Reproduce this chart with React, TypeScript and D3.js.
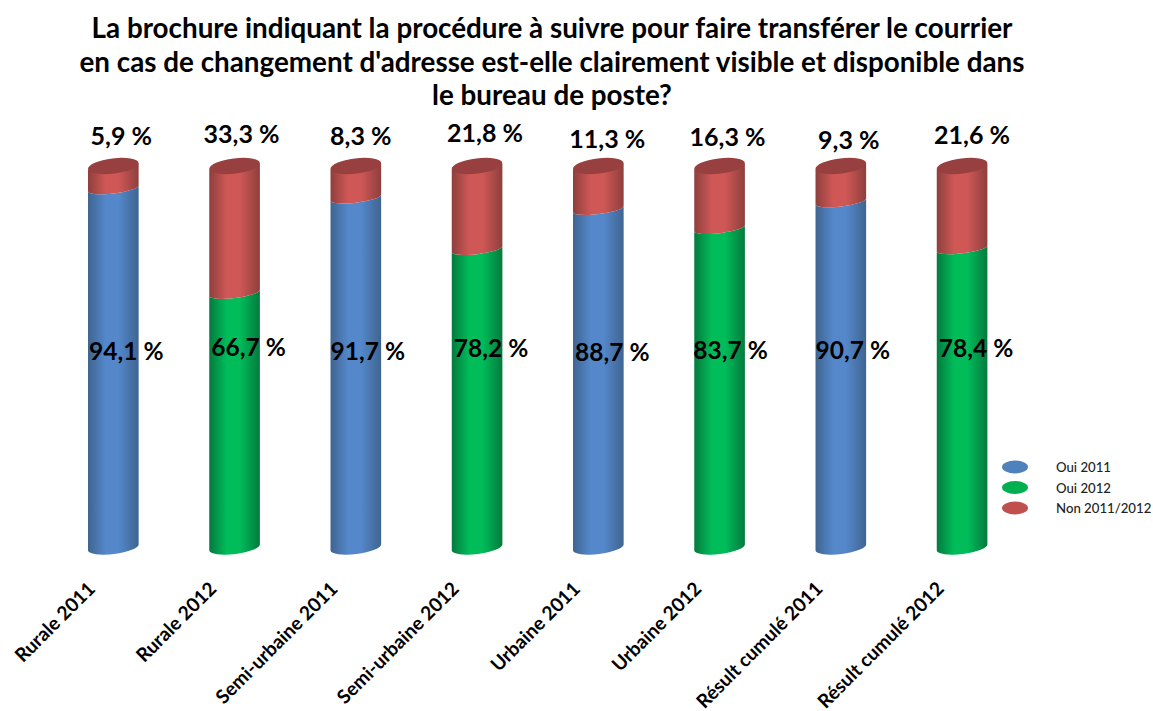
import React from "react";
import * as d3 from "d3";

const titleLines = [
  "La brochure indiquant la procédure à suivre pour faire transférer le courrier",
  "en cas de changement d'adresse est-elle clairement visible et disponible dans",
  "le bureau de poste?",
];
const categories = ["Rurale 2011", "Rurale 2012", "Semi-urbaine 2011", "Semi-urbaine 2012", "Urbaine 2011", "Urbaine 2012", "Résult cumulé 2011", "Résult cumulé 2012"];
const oui = [94.1, 66.7, 91.7, 78.2, 88.7, 83.7, 90.7, 78.4];
const non = [5.9, 33.3, 8.3, 21.8, 11.3, 16.3, 9.3, 21.6];
const legendLabels = ["Oui 2011", "Oui 2012", "Non 2011/2012"];

const FONT = "Lato, Carlito, sans-serif";
const x = d3.scaleBand<string>().domain(categories).range([53, 1023]).paddingInner(0).paddingOuter(0);
const y = d3.scaleLinear().domain([0, 100]).range([547.5, 166]);
const RX = 25.5, RY_TOP = 7.6, RY_MID = 5, RY_BOTTOM = 6.5, ROT = -7;
const DX = RX * Math.cos((ROT * Math.PI) / 180);
const DY = -RX * Math.sin((ROT * Math.PI) / 180);

const topDx = [8, 7, 5, 8, 9, 8, 8, 10];
const topY = [145, 143, 145, 142, 148, 146, 149, 144];
const midDx = [13, 14, 12, 14, 14, 11, 12, 14];
const midY = [360, 356, 360, 357, 361, 359, 359, 357];

function segment(cx: number, y0: number, y1: number, ry0: number, ry1: number) {
  return `M${cx - DX},${y1 + DY} A${RX},${ry1} ${ROT} 0 0 ${cx + DX},${y1 - DY} L${cx + DX},${y0 - DY} A${RX},${ry0} ${ROT} 0 1 ${cx - DX},${y0 + DY} Z`;
}

const grads = [
  { id: "blue", edge: "#3f6490", mid: "#5488cb", legend: "#4f81bd" },
  { id: "green", edge: "#047a3e", mid: "#00bd5a", legend: "#00b050" },
  { id: "red", edge: "#8e3f3d", mid: "#cf5856", legend: "#c0504d" },
];

export default function App() {
  return (
    <svg width={1153} height={711} style={{ position: "absolute", left: 0, top: 0, background: "#fff" }}>
      <defs>
        {grads.map((g) => (
          <linearGradient key={g.id} id={g.id} x1="0" x2="1" y1="0" y2="0">
            <stop offset="0" stopColor={g.edge} />
            <stop offset="0.35" stopColor={g.mid} />
            <stop offset="0.6" stopColor={g.mid} />
            <stop offset="1" stopColor={g.edge} />
          </linearGradient>
        ))}
      </defs>
      {titleLines.map((t, i) => (
        <text key={i} x={552} y={38 + i * 33.7} textAnchor="middle" fontFamily={FONT} fontWeight={700} fontSize={27.8} fill="#000">{t}</text>
      ))}
      {categories.map((c, i) => {
        const cx = x(c)! + x.bandwidth() / 2 - 0.3;
        const fill = i % 2 === 0 ? "blue" : "green";
        return (
          <g key={c}>
            <path d={segment(cx, y(0), y(oui[i]), RY_BOTTOM, RY_MID)} fill={`url(#${fill})`} />
            <path d={segment(cx, y(oui[i]), y(100), RY_MID, RY_TOP - 3)} fill="url(#red)" />
            <ellipse cx={cx} cy={y(100)} rx={RX} ry={RY_TOP} transform={`rotate(${ROT} ${cx} ${y(100)})`} fill="#97403f" />
            <text x={cx + topDx[i]} y={topY[i]} textAnchor="middle" fontFamily={FONT} fontWeight={700} fontSize={25} fill="#000">{`${non[i].toFixed(1).replace(".", ",")} %`}</text>
            <text x={cx + midDx[i]} y={midY[i]} textAnchor="middle" fontFamily={FONT} fontWeight={700} fontSize={24.5} fill="#000">{`${oui[i].toFixed(1).replace(".", ",")} %`}</text>
            <text transform={`translate(${cx - 17},${590}) rotate(-45)`} textAnchor="end" fontFamily={FONT} fontWeight={700} fontSize={19.2} fill="#000">{c}</text>
          </g>
        );
      })}
      {legendLabels.map((l, i) => (
        <g key={l}>
          <ellipse cx={1015} cy={467 + i * 20.5} rx={13} ry={6.5} fill={grads[i].legend} />
          <text x={1056} y={472 + i * 20.5} fontFamily={FONT} fontSize={13.2} fontWeight={500} fill="#222">{l}</text>
        </g>
      ))}
    </svg>
  );
}
